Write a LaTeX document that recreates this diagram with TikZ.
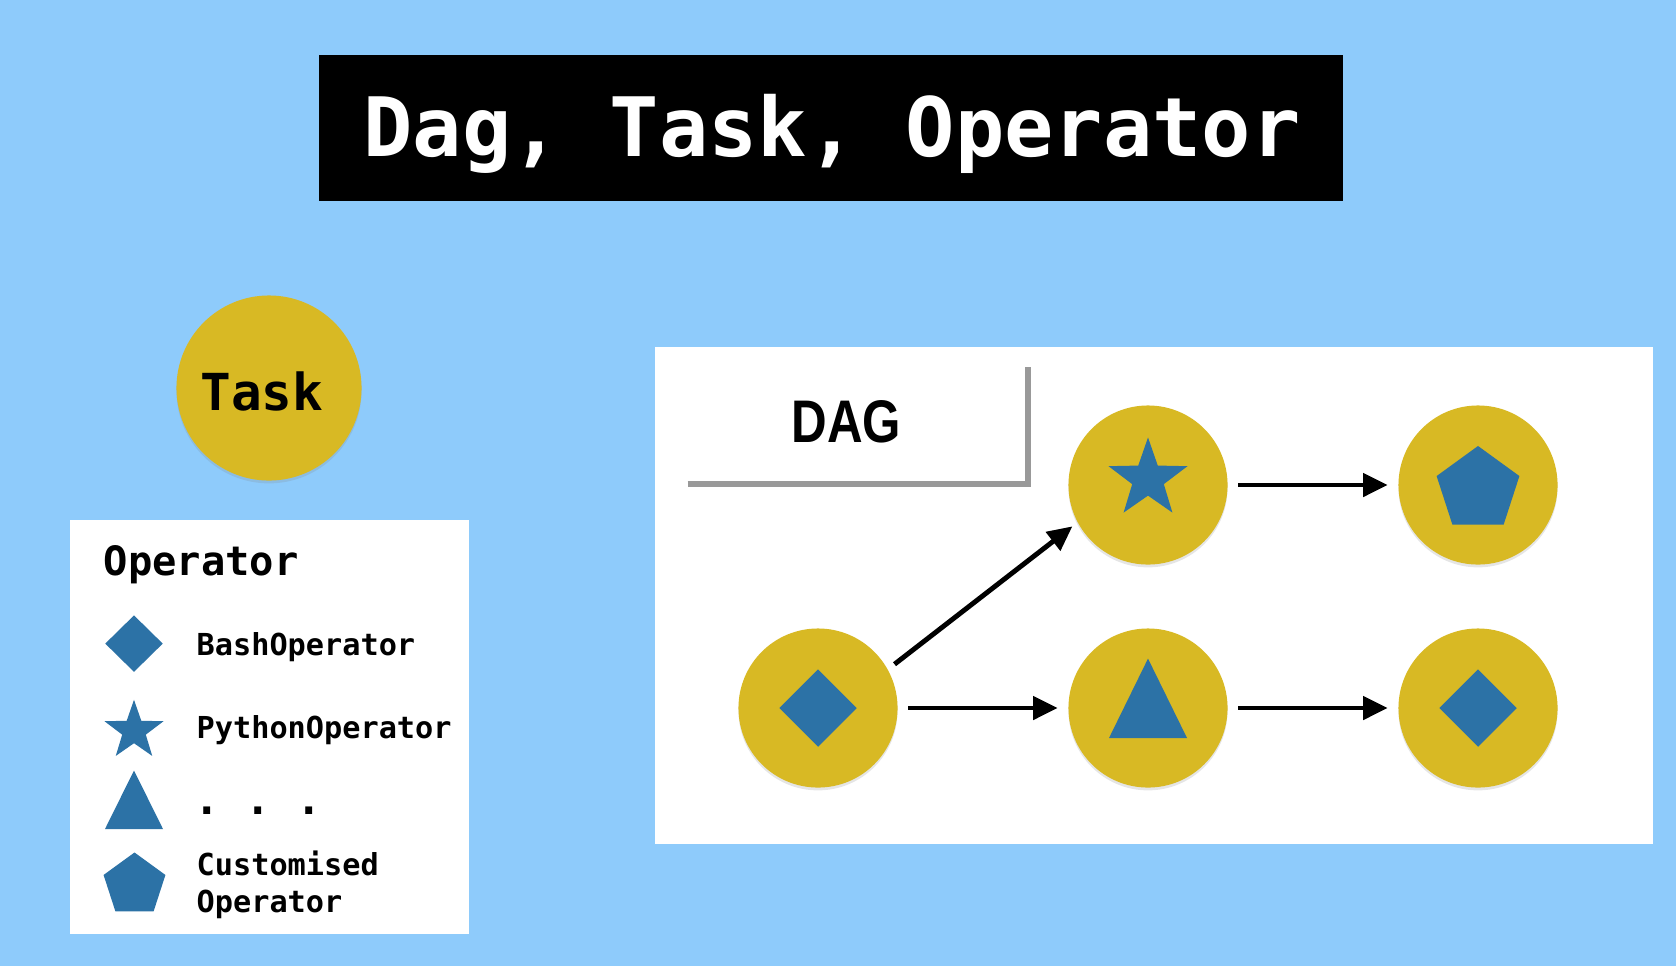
\documentclass[tikz,border=0pt]{standalone}
\usepackage{fontspec}
\setmonofont{DejaVu Sans Mono}
\newfontfamily\dagfont[FakeStretch=0.82]{Liberation Sans}
\usetikzlibrary{arrows.meta,shapes.geometric,shadows,positioning}

\definecolor{skyblue}{RGB}{142,203,251}
\definecolor{taskyellow}{RGB}{216,185,36}
\definecolor{opblue}{RGB}{44,114,166}

\tikzset{
  taskc/.style={circle, fill=taskyellow, inner sep=0pt, minimum size=1.59cm,
    drop shadow={shadow xshift=0pt, shadow yshift=-0.8pt, opacity=0.2}},
  opfill/.style={fill=opblue, inner sep=0pt},
  flow/.style={-{Triangle[length=7pt,width=6.5pt]}, line width=1.4pt,
    shorten <=0.1cm, shorten >=0.1cm},
  legtext/.style={anchor=base west, align=left,
    font=\ttfamily\bfseries\fontsize{8.6}{10.36}\selectfont},
  labelshadow/.style={draw=gray!80, line width=1.6pt}
}

\begin{document}
\begin{tikzpicture}[x=0.01cm,y=-0.01cm]
\useasboundingbox (0,0) rectangle (1676,966);
\fill[skyblue] (0,0) rectangle (1676,966);

% title
\fill[black] (319,55) rectangle (1343,201);
\node[anchor=base, text=white, inner sep=0pt,
  font=\ttfamily\bfseries\fontsize{23.3}{27}\selectfont] (title) at (832,156) {Dag, Task, Operator};

% task
\node[taskc, minimum size=1.85cm] (task) at (269,388) {};
\node[anchor=base, inner sep=0pt, font=\ttfamily\bfseries\fontsize{14.5}{17}\selectfont] (tasklabel) at (262,410) {Task};

% legend
\fill[white] (69.5,519.5) rectangle (468.5,934);
\node[anchor=base west, inner sep=0pt, font=\ttfamily\bfseries\fontsize{11.5}{14}\selectfont] (legtitle) at (103,575) {Operator};
\node[opfill, diamond, minimum width=0.58cm, minimum height=0.57cm] (keybash) at (134,643.6) {};
\node[opfill, star, star points=5, star point ratio=2.5, minimum size=0.62cm] (keypython) at (134,730.8) {};
\fill[opblue] (134,770.5) -- (163,829) -- (105,829) -- cycle;
\node[opfill, regular polygon, regular polygon sides=5, minimum size=0.65cm] (keycustom) at (134.5,885) {};
\node[legtext, inner sep=0pt] (bashtext) at (196,655.5) {BashOperator};
\node[legtext, inner sep=0pt] (pythontext) at (196,738.6) {PythonOperator};
\node[legtext, inner sep=0pt, font=\ttfamily\bfseries\fontsize{12}{14}\selectfont] (moretext) at (194,814) {. . .};
\node[legtext, inner sep=0pt] (customtext) at (196,912) {Customised\\Operator};

% dag panel
\fill[white] (655,347) rectangle (1653,844);
\draw[labelshadow] (687.6,484) -- (1028,484) -- (1028,367);
\node[anchor=base, inner sep=0pt, font=\dagfont\bfseries\fontsize{17.1}{20}\selectfont] (daglabel) at (846.5,442.2) {DAG};

\node[taskc] (bashtask) at (818,708) {};
\node[taskc] (pytask) at (1148,485) {};
\node[taskc] (othertask) at (1148,708) {};
\node[taskc] (customtask) at (1478,485) {};
\node[taskc] (bashtask2) at (1478,708) {};

\node[opfill, diamond, minimum width=0.78cm, minimum height=0.78cm] at (bashtask) {};
\node[opfill, star, star points=5, star point ratio=2.5, minimum size=0.83cm] at ([yshift=0.06cm]pytask) {};
\fill[opblue] (othertask.center) ++(0,-49.4) -- ++(39,79.4) -- ++(-78,0) -- cycle;
\node[opfill, regular polygon, regular polygon sides=5, minimum size=0.87cm] at ([yshift=-0.045cm]customtask) {};
\node[opfill, diamond, minimum width=0.78cm, minimum height=0.78cm] at (bashtask2) {};

\draw[flow, shorten <=0.08cm, shorten >=0.06cm] (bashtask.29.5) -- (pytask.208.3);
\draw[flow] (bashtask) -- (othertask);
\draw[flow] (pytask) -- (customtask);
\draw[flow] (othertask) -- (bashtask2);
\end{tikzpicture}
\end{document}
